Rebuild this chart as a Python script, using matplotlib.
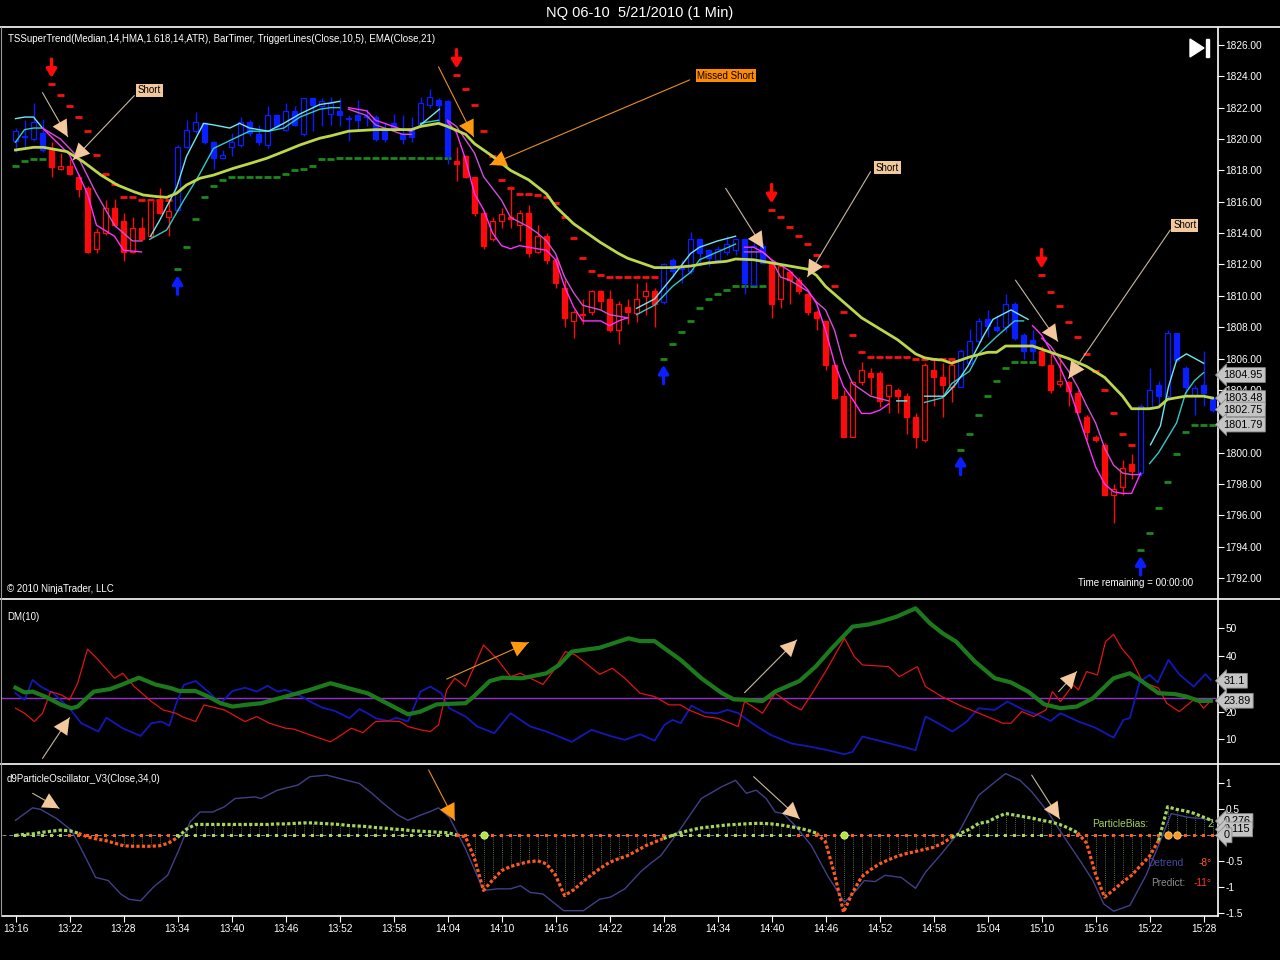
import numpy as np
import matplotlib
matplotlib.use('Agg')
import matplotlib.pyplot as plt
from matplotlib.lines import Line2D
from matplotlib.patches import Polygon

plt.rcParams['font.family'] = ['Liberation Sans', 'DejaVu Sans']

# 1 minute bars, 13:16 .. 15:29
bar_open = [1819.9, 1820.1, 1820.0, 1820.4, 1819.3, 1818.1, 1818.3, 1817.6, 1816.9, 1813.0,
            1814.0, 1815.6, 1814.8, 1812.8, 1814.3, 1813.8, 1816.1, 1815.0, 1815.5, 1819.5,
            1820.5, 1821.0, 1819.8, 1818.8, 1819.5, 1819.6, 1821.1, 1820.3, 1819.6, 1821.5,
            1820.6, 1821.8, 1820.3, 1822.6, 1822.1, 1821.6, 1821.8, 1821.3, 1821.5, 1821.4,
            1821.4, 1820.7, 1821.0, 1820.3, 1820.7, 1820.9, 1822.2, 1822.5, 1822.4, 1818.6,
            1818.9, 1817.6, 1815.3, 1813.6, 1814.8, 1815.0, 1814.5, 1815.3, 1812.8, 1813.8,
            1812.3, 1810.5, 1808.4, 1808.8, 1809.0, 1810.3, 1809.8, 1807.8, 1809.3, 1808.9,
            1810.0, 1810.3, 1809.6, 1812.3, 1811.8, 1811.6, 1813.6, 1812.9, 1812.3, 1812.8,
            1812.9, 1813.6, 1810.7, 1813.2, 1812.0, 1809.8, 1811.5, 1811.0, 1810.1, 1809.0,
            1808.4, 1805.6, 1803.6, 1801.0, 1804.5, 1805.1, 1805.1, 1803.6, 1804.0, 1803.6,
            1802.3, 1800.8, 1805.3, 1804.8, 1804.2, 1804.2, 1805.7, 1807.1, 1808.5, 1808.0,
            1808.0, 1809.5, 1807.5, 1807.2, 1806.5, 1805.6, 1804.4, 1804.5, 1803.8, 1802.3,
            1801.0, 1800.5, 1797.3, 1797.8, 1799.3, 1798.7, 1802.9, 1804.3, 1803.6, 1807.6,
            1805.4, 1803.7, 1804.3, 1803.5]
bar_high = [1820.7, 1821.2, 1822.3, 1821.3, 1819.8, 1819.1, 1818.7, 1817.8, 1817.0, 1814.3,
            1816.1, 1816.2, 1815.3, 1815.0, 1815.0, 1816.2, 1816.9, 1816.2, 1819.6, 1821.2,
            1821.7, 1821.1, 1819.9, 1819.3, 1820.4, 1821.4, 1821.2, 1820.9, 1822.1, 1821.6,
            1822.3, 1822.1, 1822.6, 1822.6, 1822.6, 1822.7, 1822.6, 1821.5, 1822.5, 1821.9,
            1821.5, 1821.0, 1821.6, 1821.5, 1821.4, 1822.7, 1823.2, 1822.6, 1822.5, 1819.5,
            1819.0, 1817.6, 1815.4, 1815.0, 1815.6, 1817.0, 1815.5, 1815.8, 1814.5, 1814.0,
            1812.5, 1811.0, 1809.1, 1809.8, 1810.4, 1810.4, 1810.4, 1809.7, 1809.8, 1810.8,
            1810.9, 1810.5, 1812.1, 1812.4, 1812.3, 1814.1, 1813.6, 1813.0, 1813.2, 1813.8,
            1813.7, 1813.6, 1813.4, 1813.4, 1812.1, 1811.9, 1811.6, 1811.2, 1810.2, 1809.1,
            1808.4, 1805.6, 1804.0, 1804.6, 1805.8, 1805.4, 1805.2, 1804.3, 1804.1, 1803.8,
            1802.5, 1805.7, 1805.9, 1805.7, 1805.9, 1806.6, 1807.9, 1808.6, 1809.1, 1808.8,
            1810.1, 1809.6, 1807.6, 1807.8, 1806.8, 1806.4, 1806.2, 1804.6, 1804.0, 1802.4,
            1801.1, 1800.6, 1798.0, 1799.5, 1799.9, 1803.1, 1805.4, 1804.6, 1807.8, 1807.6,
            1805.5, 1804.3, 1806.5, 1803.6]
bar_low = [1819.2, 1819.4, 1819.9, 1819.2, 1817.6, 1818.0, 1817.7, 1816.3, 1812.7, 1812.7,
           1813.9, 1814.4, 1812.2, 1812.7, 1813.5, 1813.7, 1815.2, 1813.8, 1815.4, 1819.4,
           1820.4, 1819.7, 1818.1, 1818.7, 1818.9, 1819.5, 1820.2, 1819.6, 1819.4, 1820.7,
           1820.5, 1820.8, 1820.2, 1820.5, 1820.8, 1820.9, 1820.8, 1819.9, 1820.6, 1820.8,
           1819.9, 1819.8, 1820.5, 1819.7, 1819.8, 1820.8, 1822.0, 1821.0, 1818.4, 1817.3,
           1817.5, 1815.1, 1813.0, 1813.5, 1814.3, 1814.3, 1813.5, 1812.5, 1812.7, 1812.0,
           1810.5, 1808.0, 1807.3, 1808.2, 1808.8, 1809.1, 1807.7, 1806.9, 1808.2, 1808.3,
           1808.8, 1808.0, 1809.5, 1811.2, 1810.8, 1811.4, 1811.9, 1811.9, 1812.2, 1812.6,
           1812.6, 1810.1, 1810.6, 1812.0, 1808.6, 1809.2, 1809.5, 1810.1, 1808.8, 1807.8,
           1805.3, 1803.4, 1801.0, 1801.0, 1804.3, 1803.7, 1802.9, 1802.5, 1802.5, 1801.2,
           1800.3, 1800.7, 1803.0, 1802.3, 1803.2, 1804.2, 1805.6, 1807.0, 1807.4, 1807.7,
           1807.7, 1807.2, 1806.0, 1805.9, 1805.5, 1803.8, 1804.2, 1803.0, 1802.5, 1800.8,
           1800.7, 1797.3, 1795.5, 1797.3, 1798.3, 1798.5, 1802.8, 1802.9, 1803.5, 1805.8,
           1803.7, 1802.4, 1803.0, 1802.6]
bar_close = [1820.5, 1820.2, 1821.1, 1819.3, 1818.2, 1818.3, 1817.8, 1816.8, 1812.8, 1814.1,
             1815.6, 1814.5, 1812.8, 1814.3, 1813.6, 1816.1, 1815.3, 1815.4, 1819.5, 1820.6,
             1821.1, 1819.8, 1818.8, 1819.0, 1819.8, 1821.1, 1820.4, 1819.8, 1821.5, 1820.8,
             1821.8, 1820.9, 1822.6, 1822.2, 1822.4, 1822.3, 1821.5, 1821.3, 1821.2, 1821.4,
             1820.0, 1820.0, 1820.6, 1820.0, 1820.1, 1822.3, 1822.7, 1822.2, 1818.9, 1818.4,
             1817.6, 1815.3, 1813.2, 1814.8, 1815.2, 1814.9, 1815.3, 1812.7, 1813.8, 1812.3,
             1810.8, 1808.6, 1809.0, 1808.8, 1810.3, 1809.7, 1807.8, 1809.5, 1809.0, 1809.8,
             1810.3, 1809.5, 1812.0, 1811.6, 1811.7, 1813.6, 1812.7, 1812.4, 1813.0, 1813.3,
             1813.6, 1810.8, 1813.2, 1812.1, 1809.5, 1811.9, 1811.0, 1810.3, 1809.0, 1808.6,
             1805.6, 1803.5, 1801.0, 1804.5, 1805.3, 1804.8, 1803.3, 1804.3, 1803.6, 1802.3,
             1801.0, 1805.6, 1804.8, 1804.3, 1805.6, 1806.5, 1807.1, 1808.4, 1808.1, 1807.8,
             1809.5, 1807.3, 1806.5, 1806.5, 1805.6, 1804.0, 1804.6, 1803.9, 1802.6, 1801.3,
             1800.8, 1797.3, 1797.7, 1799.0, 1798.8, 1803.0, 1804.0, 1803.6, 1807.6, 1805.9,
             1804.2, 1804.1, 1803.8, 1802.75]

# TSSuperTrend level per bar, and the bars where the trend flips
supertrend = [1818.3, 1818.6, 1818.7, 1818.7, 1823.5, 1822.8, 1822.1, 1821.4, 1820.5, 1819.0,
              1817.8, 1817.1, 1816.3, 1816.3, 1816.1, 1816.1, 1816.1, 1816.1, 1811.7, 1813.1,
              1814.9, 1816.3, 1817.0, 1817.4, 1817.55, 1817.55, 1817.6, 1817.6, 1817.6, 1817.6,
              1817.8, 1818.0, 1818.1, 1818.3, 1818.7, 1818.7, 1818.8, 1818.8, 1818.8, 1818.8,
              1818.8, 1818.8, 1818.8, 1818.8, 1818.8, 1818.8, 1818.8, 1818.8, 1818.8, 1824.1,
              1823.2, 1822.2, 1820.5, 1818.9, 1817.4, 1816.9, 1816.5, 1816.5, 1816.4, 1816.3,
              1815.9, 1815.0, 1813.7, 1812.4, 1811.6, 1811.3, 1811.2, 1811.2, 1811.2, 1811.2,
              1811.2, 1811.2, 1806.0, 1806.9, 1807.7, 1808.4, 1809.2, 1809.8, 1810.1, 1810.4,
              1810.6, 1810.6, 1810.6, 1810.6, 1815.5, 1815.0, 1814.4, 1813.8, 1813.3, 1812.6,
              1811.9, 1810.6, 1809.0, 1807.5, 1806.4, 1806.1, 1806.1, 1806.1, 1806.1, 1806.1,
              1805.95, 1805.95, 1805.95, 1805.95, 1805.95, 1800.2, 1801.2, 1802.4, 1803.6, 1804.6,
              1805.4, 1805.8, 1805.8, 1805.8, 1811.35, 1810.25, 1809.35, 1808.35, 1807.4, 1806.3,
              1805.2, 1804.0, 1802.5, 1801.2, 1800.5, 1793.8, 1794.9, 1796.5, 1798.1, 1799.9,
              1801.3, 1801.79, 1801.79, 1801.79]
flip_bars = [0, 4, 18, 49, 72, 84, 105, 114, 125]
flip_dirs = [1, -1, 1, -1, 1, -1, 1, -1, 1]

# EMA(Close,21)
ema_x = [0, 2, 3.1, 5.7, 7.5, 9.5, 11.3, 13.1, 14.2, 15.7, 16.8, 17.9, 19, 20.5, 22, 24.2, 26.1, 27.9, 29.8, 31.6, 33.8,
         35, 37, 40, 44, 45, 47, 48, 50, 51, 53, 55, 57, 59, 60, 62, 63, 65, 67, 68,
         69, 71, 73, 75, 77, 79, 80, 82, 84, 86, 88, 89, 90, 92, 94, 96, 98, 100, 101, 102,
         103, 104, 106, 108, 109, 110, 112, 113, 115, 117, 119, 121, 123, 124, 126, 127, 128, 130, 132, 133]
ema_v = [1819.3, 1819.47, 1819.47, 1819.2, 1818.56, 1817.7, 1817.07, 1816.65, 1816.43, 1816.33, 1816.28, 1816.54, 1817.07, 1817.5, 1817.7, 1818.13, 1818.45, 1818.77, 1819.2, 1819.62, 1820.05,
         1820.2, 1820.5, 1820.6, 1820.6, 1820.8, 1821.0, 1820.8, 1820.3, 1819.7, 1818.9, 1818.0, 1817.4, 1816.5, 1815.7, 1814.6, 1814.2, 1813.4, 1812.7, 1812.4,
         1812.2, 1811.8, 1811.8, 1811.9, 1812.1, 1812.2, 1812.35, 1812.3, 1812.1, 1811.9, 1811.7, 1811.3, 1810.6, 1809.6, 1808.6, 1807.9, 1807.2, 1806.3, 1806.05, 1805.95,
         1805.9, 1805.7, 1806.1, 1806.4, 1806.4, 1806.8, 1806.8, 1806.8, 1806.4, 1806.0, 1805.5, 1804.8, 1803.6, 1802.8, 1802.8, 1802.9, 1803.4, 1803.6, 1803.6, 1803.48]

# TriggerLines, nan separates the segments
nan = np.nan
cyan_fast_x = [0, 1, 2, 3, nan, 15, 16, 17.9, 19, 20.9, 22, 23.8, 24.9, 26, 28.1, 29.8, 31.6, 33.8, 35, 36, nan,
               45, 47.1, nan, 69, 71, 72, 73, 75, 76, 78, 80, nan, 97.9, 99, nan,
               101, 103.2, 104.5, 105.8, 107.5, 108.6, 110.6, 112.5, nan, 126.1, 127.2, 128.1, 129, 130.1, 132]
cyan_fast_v = [1821.3, 1821.4, 1821.4, 1820.7, nan, 1813.8, 1814.8, 1816.9, 1818.9, 1821.0, 1820.9, 1820.7, 1821.0, 1820.7, 1820.5, 1821.0, 1821.6, 1822.2, 1822.3, 1822.4, nan,
               1820.9, 1821.9, nan, 1809.2, 1809.8, 1810.5, 1811.2, 1812.7, 1813.1, 1813.5, 1813.8, nan, 1803.3, 1803.3, nan,
               1803.6, 1803.6, 1804.4, 1805.5, 1807.4, 1808.5, 1809.1, 1808.5, nan, 1800.5, 1801.7, 1804.2, 1805.9, 1806.3, 1805.7]
cyan_slow_x = [0, 1, 2, 3, nan, 14.9, 16.8, 18.7, 20.2, 22, 23.8, 26, 28.1, 29.8, 31.6, 33.8, 35, 36, nan,
               45, 47, nan, 69, 71, 72, 73, 75, 76, 78, 80, nan,
               101, 103, 104, 106, 107, 109, 111, 112, nan, 126, 127, 129, 130, 131, 132]
cyan_slow_v = [1819.8, 1820.6, 1820.7, 1820.7, nan, 1813.6, 1814.2, 1816.1, 1817.5, 1819.4, 1819.9, 1820.5, 1820.5, 1820.7, 1821.4, 1821.9, 1822.0, 1822.0, nan,
               1821.0, 1821.2, nan, 1808.8, 1809.4, 1810.0, 1810.6, 1811.5, 1812.3, 1812.8, 1813.3, nan,
               1803.2, 1803.5, 1804.4, 1805.2, 1806.3, 1807.4, 1808.4, 1808.4, nan, 1799.3, 1800.0, 1801.9, 1803.8, 1804.6, 1805.1]
mag_fast_x = [3, 6, 8, 9, 11, 12, 14, nan, 37, 39, 40, 42, 43, 44, nan,
              48, 49, 50, 51, 52, 53, 54, 55, 56, 57, 59, 60, 61, 62, 63, 65, 66, 67, 68, nan,
              81, 82, 83, 84, 86, 87, 88, 89, 90, 91, 92, 93, 94, 95, 96, 97, nan,
              113, 114, 115, 116, 117, 118, 119, 120, 121, 122, 123, 124, 125]
mag_fast_v = [1820.7, 1819.0, 1816.5, 1814.5, 1813.8, 1812.9, 1812.8, nan, 1822.0, 1821.8, 1821.2, 1820.8, 1820.6, 1820.5, nan,
              1821.1, 1820.4, 1818.7, 1816.5, 1815.5, 1814.0, 1813.2, 1813.0, 1813.2, 1813.1, 1812.9, 1812.3, 1810.6, 1809.3, 1808.4, 1808.4, 1808.1, 1808.4, 1808.6, nan,
              1813.1, 1813.1, 1812.8, 1812.3, 1811.6, 1811.0, 1810.4, 1809.5, 1807.8, 1805.7, 1804.2, 1803.4, 1802.5, 1802.5, 1802.7, 1803.1, nan,
              1808.1, 1807.5, 1806.5, 1805.5, 1804.2, 1802.5, 1800.8, 1799.1, 1798.0, 1797.5, 1797.4, 1797.4, 1798.7]
mag_slow_x = [3, 5, 7, 9, 11, 13, 14, nan, 37, 39, 40, 43, 44, nan,
              48, 49, 51, 52, 54, 55, 57, 58, 59, 60, 61, 62, 63, 65, 66, 68, nan,
              81, 83, 84, 85, 86, 88, 89, 90, 91, 92, 93, 95, 97, nan,
              114, 115, 116, 117, 118, 119, 120, 121, 122, 123, 124, 125]
mag_slow_v = [1820.7, 1820.0, 1818.8, 1816.5, 1814.5, 1813.5, 1813.5, nan, 1821.9, 1821.5, 1820.9, 1820.3, 1820.3, nan,
              1821.2, 1820.8, 1819.1, 1817.6, 1816.1, 1815.0, 1814.4, 1814.0, 1813.5, 1812.7, 1811.2, 1810.2, 1809.4, 1809.1, 1808.8, 1808.6, nan,
              1812.8, 1812.8, 1812.3, 1811.2, 1811.0, 1810.3, 1809.6, 1809.1, 1807.8, 1805.7, 1804.4, 1803.6, 1803.3, nan,
              1807.3, 1806.8, 1806.0, 1805.2, 1804.2, 1803.0, 1801.9, 1800.3, 1799.2, 1798.7, 1798.6, 1798.6]

# DM(10)
adx_x = [0, 1, 1.9, 3.3, 5.1, 6.2, 6.9, 8.7, 10.5, 11.9, 13.7, 15.5, 17.3, 18.2, 20, 21.4, 22.8, 24.1, 25.5, 27.3,
         30, 32.7, 35, 37.7, 39.1, 40.9, 43.6, 45, 46.8, 50, 50.9, 52.7, 54.1, 56.3, 59, 60.4, 61.8, 64.9, 68.1,
         69.4, 71, 72.1, 73.9, 76.2, 78.5, 79.8, 81.2, 83, 84.4, 87.1, 88.9, 90.7, 93, 94.8, 96.1, 97.9, 100, 101.6, 103,
         104.5, 106.6, 108.8, 110.6, 112.5, 114.3, 116.1, 117.9, 119.7, 122, 123.8, 125.2, 127, 128.8, 130.1, 131.5, 132.8]
adx_v = [28.6, 26.9, 27.2, 25.4, 22.4, 21.2, 21.8, 27.2, 28.1, 29.8, 32.2, 29.8, 28.4, 27.4, 27.4, 25.4, 23.0, 21.8, 22.4, 23.0,
         25.4, 27.8, 30.2, 27.8, 26.6, 23.6, 19.0, 20.0, 22.6, 23.0, 25.4, 31.0, 32.2, 32.0, 33.8, 36.8, 41.6, 43.0, 46.4,
         45.4, 45.4, 42.8, 38.6, 32.0, 26.6, 24.4, 24.2, 23.8, 27.2, 31.0, 36.2, 42.8, 50.6, 51.4, 52.4, 54.2, 57.2, 51.8, 48.2,
         45.2, 38.0, 32.0, 30.5, 27.2, 22.6, 21.2, 21.8, 24.8, 32.0, 33.8, 30.8, 26.6, 26.3, 25.4, 23.8, 23.89]
dm_red_x = [0, 1, 2.1, 3, 3.9, 5.1, 6, 6.9, 8, 9.2, 11, 11.9, 13.2, 15.1, 16.4, 17.8, 18.5, 20, 20.95, 23.2,
            25.5, 26.8, 28.2, 30, 30.9, 32.7, 35, 35.9, 37.3, 38.6, 40, 41.4, 42.7, 43.6, 45, 46.1, 47, 47.9, 48.8, 50,
            52, 53.6, 55, 56.1, 57.2, 58.6, 59.7, 61.1, 62.2, 63.6, 64.9, 66.3, 67.7,
            69.4, 71, 72.6, 73.9, 74.8, 76.6, 78, 80.3, 81, 81.9, 83, 84.4, 86.2, 87.3, 88.4, 90, 92.1, 93.2, 94.1, 97,
            98.2, 100.2, 101.1, 102.9, 105.2, 107.5, 109.7, 110.6, 111.8, 113.1, 114.5, 115.2, 116.1, 117.5, 118.1, 119,
            120.2, 121.1, 122, 122.9, 124, 125.2, 127, 127.9, 129.3, 131.1, 132, 132.8]
dm_red_v = [21.2, 19.4, 16.4, 19.4, 27.2, 26.0, 24.2, 30.2, 42.5, 38.6, 32.0, 33.8, 29.0, 23.6, 20.6, 19.4, 18.2, 16.4, 22.4, 20.6,
            16.4, 18.2, 15.8, 14.0, 13.7, 11.6, 9.1, 10.9, 14.0, 12.4, 16.4, 16.6, 16.4, 14.6, 13.4, 12.8, 15.2, 27.8, 32.0, 29.0,
            44.0, 38.6, 32.6, 33.8, 32.0, 29.8, 34.4, 41.6, 40.4, 36.8, 33.4, 35.6, 32.0,
            26.6, 25.4, 22.4, 22.4, 20.6, 18.2, 17.6, 14.6, 23.6, 21.8, 19.4, 26.6, 22.4, 20.6, 26.0, 34.4, 46.4, 39.8, 36.8, 36.2,
            32.6, 36.2, 29.0, 25.4, 21.8, 18.8, 15.8, 15.8, 20.0, 18.2, 20.6, 27.2, 23.6, 29.6, 27.8, 34.4,
            33.2, 45.2, 47.8, 42.8, 38.6, 30.8, 28.4, 23.0, 20.0, 24.8, 21.2, 23.9]
dm_blue_x = [0, 1, 1.9, 2.8, 4.2, 6, 7.3, 9.2, 10.1, 11.9, 13.9, 15.1, 16.2, 17.1, 17.8, 18.7, 20, 21.4, 22.8, 24.1,
             25.5, 26.8, 28, 29.1, 30, 31.8, 32.7, 34.1, 35.5, 37.1, 38.2, 39.1, 40, 41.4, 42.3, 43.6, 45, 46.1, 47.3, 48.2,
             50, 51.3, 53.2, 55, 57.2, 59, 61.8, 64, 66.3, 67.7,
             69.4, 71, 72.1, 73, 73.9, 75.1, 76.6, 78, 79.1, 80.3, 82.1, 83.9, 86.2, 88.4, 90.2, 92.1, 93, 94.1, 95.7, 97.5,
             100, 101.1, 102.5, 104.1, 105.7, 107, 108.8, 110.2, 112, 113.6, 115, 116.1, 118.1, 119.9, 122, 123.1, 123.8, 124.9, 126, 126.9,
             128.1, 129.3, 130.9, 132.2, 132.8]
dm_blue_v = [26.6, 24.2, 31.4, 29.0, 26.6, 21.2, 15.8, 12.8, 17.8, 14.0, 11.2, 15.8, 16.4, 14.9, 22.4, 29.6, 31.0, 27.2, 23.0, 27.4,
             28.6, 27.2, 29.3, 27.2, 27.8, 25.4, 23.6, 21.4, 20.2, 17.6, 20.9, 19.4, 17.6, 16.6, 17.8, 16.4, 27.2, 29.0, 26.6, 21.2,
             18.2, 14.6, 12.2, 19.4, 14.6, 12.8, 9.1, 13.4, 11.0, 9.8,
             11.8, 9.5, 15.2, 17.0, 15.8, 22.1, 19.6, 19.4, 20.6, 19.4, 15.2, 11.6, 8.5, 7.3, 6.1, 4.6, 5.5, 11.0, 9.7, 8.2,
             6.1, 18.2, 15.8, 12.8, 16.4, 21.2, 20.6, 23.6, 20.6, 18.8, 16.6, 19.4, 16.4, 14.3, 10.6, 17.0, 17.6, 30.8, 33.2, 30.5,
             38.6, 33.4, 29.0, 33.5, 31.4]
dm_level = 25

# d9ParticleOscillator
detrend_x = [0, 1.9, 2.8, 4.6, 6.2, 7.3, 8.9, 10.3, 11.7, 12.6, 13.9, 15.3, 16.9, 18.2, 19.4, 20.5, 21.9, 23.2, 24.4, 26.6,
             27.3, 29.1, 31.4, 32.7, 34.6, 36.8, 38.2, 39.6, 40.9, 42.5, 43.6, 45, 46.1, 47, 48.2, 50, 52, 53.6, 55, 56.1,
             57.2, 58.6, 60.9, 63.1, 64.9, 66.1, 67.7,
             69.4, 70.7, 71.7, 72.8, 73.9, 76.2, 78.5, 80, 81.2, 82.3, 83.4, 84.4, 85.3, 86.6, 88.4, 90.2, 92.1, 93.4, 94.3, 95.5,
             96.6, 98.4, 100, 101.1, 102.9, 104.8, 107, 108.4, 110, 111.6, 112.9, 114.7, 116.5, 118.4, 119.7, 120.9, 122, 123.8, 125.6, 127,
             128.4, 130.2, 132, 132.9]
detrend_v = [0.29, 0.53, 0.50, 0.32, 0.10, -0.26, -0.81, -0.87, -1.13, -1.23, -1.26, -1.0, -0.77, -0.26, 0.26, 0.45, 0.45, 0.55, 0.71, 0.74,
             0.71, 0.87, 0.97, 1.13, 1.16, 1.06, 1.0, 0.81, 0.61, 0.39, 0.29, 0.39, 0.46, 0.53, 0.35, -0.26, -1.06, -1.03, -1.03, -0.97,
             -1.10, -1.13, -1.45, -1.45, -1.23, -1.19, -1.03,
             -0.71, -0.52, -0.39, -0.13, 0.13, 0.71, 0.94, 1.06, 0.81, 0.87, 0.71, 0.45, 0.42, 0.19, -0.19, -0.77, -1.29, -1.06, -0.87, -0.89,
             -0.77, -0.81, -1.02, -0.71, -0.35, 0.06, 0.77, 0.97, 1.19, 1.06, 0.84, 0.45, -0.03, -0.52, -0.87, -1.32, -1.46, -1.35, -0.77, -0.19,
             0.42, 0.35, 0.32, 0.29]
particle = [0.00, 0.02, 0.03, 0.06, 0.08, 0.10, 0.09, 0.04,
            -0.03, -0.07, -0.10, -0.15, -0.20, -0.21, -0.21, -0.21, -0.20, -0.15, -0.04,
            0.12, 0.21, 0.21, 0.21, 0.21, 0.21, 0.21, 0.21, 0.21, 0.21,
            0.22, 0.22, 0.23, 0.24, 0.24, 0.23, 0.22, 0.21, 0.19, 0.18,
            0.17, 0.15, 0.14, 0.12, 0.11, 0.09, 0.08, 0.07, 0.06, 0.05, 0.01,
            -0.03, -0.45, -1.06, -0.86, -0.68, -0.60, -0.55, -0.51, -0.49, -0.55,
            -0.77, -1.16, -1.05, -0.90, -0.76, -0.63, -0.52, -0.45, -0.39, -0.30,
            -0.20, -0.13, -0.06, 0.00,
            0.06, 0.10, 0.14, 0.16, 0.18, 0.20, 0.21, 0.22, 0.23, 0.23,
            0.22, 0.20, 0.17, 0.14, 0.10, 0.04,
            -0.13, -0.75, -1.48, -1.10, -0.80, -0.66, -0.55, -0.47, -0.40, -0.35,
            -0.31, -0.27, -0.23, -0.15, -0.04,
            0.04, 0.12, 0.23, 0.26, 0.35, 0.42, 0.39, 0.36, 0.33, 0.29,
            0.26, 0.21, 0.14, 0.05,
            -0.15, -0.75, -1.19, -1.05, -0.90, -0.77, -0.58, -0.40, -0.10,
            0.55, 0.50, 0.47, 0.42, 0.35, 0.28]
zero_dot_flip = [0, 6, 18, 49, 73, 87, 105, 115]
zero_dot_up = [1, 0, 1, 0, 1, 0, 1, 0]
osc_lime_bars = [52, 92]
osc_orange_bars = [128, 129]

time_labels = ['13:16', '13:22', '13:28', '13:34', '13:40', '13:46', '13:52', '13:58', '14:04', '14:10', '14:16', '14:22',
               '14:28', '14:34', '14:40', '14:46', '14:52', '14:58', '15:04', '15:10', '15:16', '15:22', '15:28']

# drawn annotations: (tail x, tail y, head x, head y)
price_tan_arrows = [(3.0, 1822.96, 5.8, 1820.15), (13.2, 1822.77, 6.4, 1818.67),
                    (78.9, 1816.86, 83.1, 1813.03), (95.0, 1817.92, 88.0, 1811.22),
                    (111.1, 1811.0, 115.8, 1807.1), (128.3, 1814.2, 117.0, 1804.74)]
price_orange_arrows = [(47.0, 1824.6, 50.9, 1820.15), (74.9, 1823.77, 52.7, 1818.35)]
short_labels = [(14.9, 1823.1), (96.9, 1818.18), (129.9, 1814.5)]
missed_label = (78.9, 1824.04)
dm_tan_arrows = [(3.0, 3.1, 6.0, 17.8), (81.0, 26.8, 86.8, 45.8), (115.9, 27.2, 117.9, 34.4)]
dm_orange_arrows = [(47.9, 31.7, 57.0, 44.9)]
osc_tan_arrows = [(1.9, 0.81, 4.85, 0.52), (82.0, 1.13, 87.1, 0.32), (112.9, 1.16, 116.0, 0.32)]
osc_orange_arrows = [(45.9, 1.26, 48.8, 0.29)]

BLUE = '#0a1eff'
RED = '#ff0a0a'
TAN = '#f2c89c'
ORANGE = '#ff9a10'
P_GREEN = '#a4d65a'
P_ORANGE = '#ff5a1e'

W, H = 1280, 960


def fx(px):
    return px / W


def fy(py):
    return 1 - py / H


fig = plt.figure(figsize=(12.8, 9.6), dpi=100, facecolor='black')
ax1 = fig.add_axes([fx(2), fy(598), 1216 / W, 570 / H])
ax2 = fig.add_axes([fx(2), fy(763), 1216 / W, 163 / H], sharex=ax1)
ax3 = fig.add_axes([fx(2), fy(916), 1216 / W, 151 / H], sharex=ax1)

for ax in (ax1, ax2, ax3):
    ax.set_facecolor('black')
    for s in ('top', 'bottom', 'left'):
        ax.spines[s].set_visible(False)
    ax.spines['right'].set_color('white')
    ax.spines['right'].set_linewidth(1.2)
    ax.yaxis.tick_right()
    ax.tick_params(axis='y', colors='white', labelsize=7.3, length=4, width=0.8, pad=1.5)
    ax.tick_params(axis='x', bottom=False, labelbottom=False)

# ---------------- price panel ----------------
o = np.array(bar_open)
hi = np.array(bar_high)
lo = np.array(bar_low)
c = np.array(bar_close)
st = np.array(supertrend)
idx = np.arange(len(o))
trend = np.ones(len(idx), dtype=int)
for b, d in zip(flip_bars, flip_dirs):
    trend[b:] = d
cols = np.where(trend > 0, BLUE, RED)
up = c >= o

ax1.hlines(st, idx - 0.36, idx + 0.36, colors=np.where(trend > 0, '#1a8a1a', '#ff1010'), lw=2.0, zorder=2)
ax1.vlines(idx, lo, hi, colors=cols, lw=1.0, zorder=3)
ax1.bar(idx, np.maximum(np.abs(c - o), 0.07), bottom=np.minimum(o, c), width=0.6,
        color=np.where(up, 'black', cols), edgecolor=cols, linewidth=0.9, zorder=4)

for b, d in zip(flip_bars[1:], flip_dirs[1:]):
    if d < 0:
        ax1.annotate('', xy=(b, st[b] + 0.4), xytext=(b, st[b] + 1.6),
                     arrowprops=dict(arrowstyle='-|>,head_width=0.3,head_length=0.5', color=RED, lw=2.4,
                                     shrinkA=0, shrinkB=0), zorder=6)
    else:
        ax1.annotate('', xy=(b, st[b] - 0.4), xytext=(b, st[b] - 1.6),
                     arrowprops=dict(arrowstyle='-|>,head_width=0.3,head_length=0.5', color=BLUE, lw=2.4,
                                     shrinkA=0, shrinkB=0), zorder=6)

ax1.plot(cyan_slow_x, cyan_slow_v, color='#35c8c8', lw=1.0, zorder=5)
ax1.plot(cyan_fast_x, cyan_fast_v, color='#70e8f0', lw=1.0, zorder=5)
ax1.plot(mag_slow_x, mag_slow_v, color='#d050d8', lw=1.0, zorder=5)
ax1.plot(mag_fast_x, mag_fast_v, color='#ff30ff', lw=1.0, zorder=5)
ax1.plot(ema_x, ema_v, color='#bcd84a', lw=2.0, zorder=5)


def note_arrow(ax, a, color, line_color):
    ax.annotate('', xy=(a[2], a[3]), xytext=(a[0], a[1]),
                arrowprops=dict(arrowstyle='-', color=line_color, lw=0.8, shrinkA=0, shrinkB=0), zorder=7)
    ax.annotate('', xy=(a[2], a[3]), xytext=(a[0], a[1]),
                arrowprops=dict(arrowstyle='-|>,head_width=0.45,head_length=0.9', color=color, lw=0,
                                mutation_scale=13, shrinkA=0, shrinkB=0), zorder=7)


for a in price_tan_arrows:
    note_arrow(ax1, a, TAN, '#c8b8a0')
for a in price_orange_arrows:
    note_arrow(ax1, a, ORANGE, '#e89020')
for x, y in short_labels:
    ax1.text(x, y, 'Short', fontsize=7, color='black', ha='center', va='center', zorder=8,
             bbox=dict(fc=TAN, ec='none', pad=1.2))
ax1.text(missed_label[0], missed_label[1], 'Missed Short', fontsize=7, color='black', ha='center', va='center',
         zorder=8, bbox=dict(fc='#ff8c00', ec='none', pad=1.2))

price_ticks = np.arange(1792, 1827, 2)
ax1.set_ylim(1790.73, 1827.08)
ax1.set_yticks(price_ticks)
ax1.set_yticklabels(['%.2f' % v for v in price_ticks])
ax1.set_xlim(-1.5, 133.6)


def right_label(ax, y, text, z=10):
    ax.annotate(text, xy=(1.0, y), xycoords=ax.get_yaxis_transform(), xytext=(4, 0),
                textcoords='offset points', ha='left', va='center', fontsize=7.8, color='black',
                bbox=dict(boxstyle='larrow,pad=0.22', fc='#c4c4c4', ec='#8a8a8a', lw=0.6),
                annotation_clip=False, zorder=z)


# value boxes sit on top of the axis labels, as on the platform
right_label(ax1, 1804.95, '1804.95')
right_label(ax1, 1803.48, '1803.48', 11)
right_label(ax1, 1802.75, '1802.75', 12)
right_label(ax1, 1801.79, '1801.79', 13)

# ---------------- DM panel ----------------
ax2.axhline(dm_level, color='#9a2cd8', lw=1.0, zorder=1)
ax2.plot(dm_blue_x, dm_blue_v, color='#1418b8', lw=1.3, zorder=2)
ax2.plot(dm_red_x, dm_red_v, color='#e01414', lw=0.9, zorder=3)
ax2.plot(adx_x, adx_v, color='#1c7a1c', lw=3.0, zorder=4)
for a in dm_tan_arrows:
    note_arrow(ax2, a, TAN, '#c8b8a0')
for a in dm_orange_arrows:
    note_arrow(ax2, a, ORANGE, '#e89020')
ax2.set_ylim(1.46, 60.2)
ax2.set_yticks([10, 20, 30, 40, 50])
right_label(ax2, 31.1, '31.1')
right_label(ax2, 23.89, '23.89')

# ---------------- oscillator panel ----------------
part = np.array(particle)
ax3.axhline(0, color='#8c8c8c', lw=0.7, ls=(0, (4, 3)), zorder=1)
ax3.vlines(idx, 0, part, colors='#6c8c5c', lw=0.6, linestyles=(0, (1, 1.5)), zorder=2)
ax3.plot(detrend_x, detrend_v, color='#40408a', lw=1.0, zorder=3)

dot_up = np.zeros(len(idx), dtype=int)
for b, u in zip(zero_dot_flip, zero_dot_up):
    dot_up[b:] = u
ax3.scatter(idx, np.zeros(len(idx)), marker='s', s=7, c=np.where(dot_up > 0, P_GREEN, P_ORANGE),
            linewidths=0, zorder=4)

pos = part >= 0
start = 0
for k in range(1, len(part) + 1):
    if k == len(part) or pos[k] != pos[start]:
        seg = slice(max(start - 1, 0), k)
        col = P_GREEN if pos[start] else P_ORANGE
        ax3.plot(idx[seg], part[seg], color=col, lw=2.3, ls=(0, (1, 0.7)), zorder=5)
        start = k

ax3.scatter(osc_lime_bars, np.zeros(len(osc_lime_bars)), s=28, c='#b4e446', edgecolors='#e0ff90',
            linewidths=0.6, zorder=6)
ax3.scatter(osc_orange_bars, np.zeros(len(osc_orange_bars)), s=28, c='#ff9a20', edgecolors='#ffd080',
            linewidths=0.6, zorder=6)
for a in osc_tan_arrows:
    note_arrow(ax3, a, TAN, '#c8b8a0')
for a in osc_orange_arrows:
    note_arrow(ax3, a, ORANGE, '#e89020')

ax3.set_ylim(-1.553, 1.355)
ax3.set_yticks([-1.5, -1, -0.5, 0, 0.5, 1])
ax3.set_yticklabels(['-1.5', '-1', '-0.5', '', '0.5', '1'])
right_label(ax3, 0.276, '0.276')
right_label(ax3, 0.115, '0.115', 11)
right_label(ax3, 0.0, '0', 12)

ax3.spines['bottom'].set_visible(True)
ax3.spines['bottom'].set_color('white')
ax3.spines['bottom'].set_linewidth(1.2)
ax3.set_xticks(np.arange(0, 133, 6))
ax3.set_xticklabels(time_labels)
ax3.tick_params(axis='x', bottom=True, labelbottom=True, colors='white', labelsize=7.3, length=4, width=0.8, pad=2)

# ---------------- frame, titles and texts ----------------
for py in (27, 599, 764):
    fig.add_artist(Line2D([0, 1], [fy(py), fy(py)], transform=fig.transFigure, color='white', lw=1.2))
fig.add_artist(Line2D([fx(0.6), fx(0.6)], [fy(27), fy(916)], transform=fig.transFigure, color='#9a9a9a', lw=0.8))

fig.text(0.5, fy(13), 'NQ 06-10  5/21/2010 (1 Min)', ha='center', va='center', color='white', fontsize=10.5)
fig.text(fx(8), fy(39), 'TSSuperTrend(Median,14,HMA,1.618,14,ATR), BarTimer, TriggerLines(Close,10,5), EMA(Close,21)',
         ha='left', va='center', color='white', fontsize=7)
fig.text(fx(7), fy(589), '\u00a9 2010 NinjaTrader, LLC', ha='left', va='center', color='white', fontsize=7)
fig.text(fx(1193), fy(583), 'Time remaining = 00:00:00', ha='right', va='center', color='white', fontsize=7)
fig.text(fx(7), fy(617), 'DM(10)', ha='left', va='center', color='white', fontsize=7)
fig.text(fx(7), fy(779), 'd9ParticleOscillator_V3(Close,34,0)', ha='left', va='center', color='white', fontsize=7)

fig.text(fx(1120), fy(824), 'ParticleBias:', ha='center', va='center', color=P_GREEN, fontsize=7.3)
fig.text(fx(1210), fy(824), '2', ha='center', va='center', color=P_GREEN, fontsize=7.3)
fig.text(fx(1165), fy(863), 'Detrend', ha='center', va='center', color='#4a4aa0', fontsize=7.3)
fig.text(fx(1212), fy(863), '-8\u00b0', ha='right', va='center', color=P_ORANGE, fontsize=7.3)
fig.text(fx(1168), fy(883), 'Predict:', ha='center', va='center', color='#8c8c8c', fontsize=7.3)
fig.text(fx(1212), fy(883), '-11\u00b0', ha='right', va='center', color='#ff3a1a', fontsize=7.3)

# skip-to-end button
fig.add_artist(Polygon([(fx(1190), fy(39)), (fx(1190), fy(57)), (fx(1204), fy(48))], closed=True,
                       transform=fig.transFigure, color='white'))
fig.add_artist(Polygon([(fx(1206), fy(39)), (fx(1209), fy(39)), (fx(1209), fy(57)), (fx(1206), fy(57))],
                       closed=True, transform=fig.transFigure, color='white'))

fig.savefig('out.png', dpi=100, facecolor='black')
